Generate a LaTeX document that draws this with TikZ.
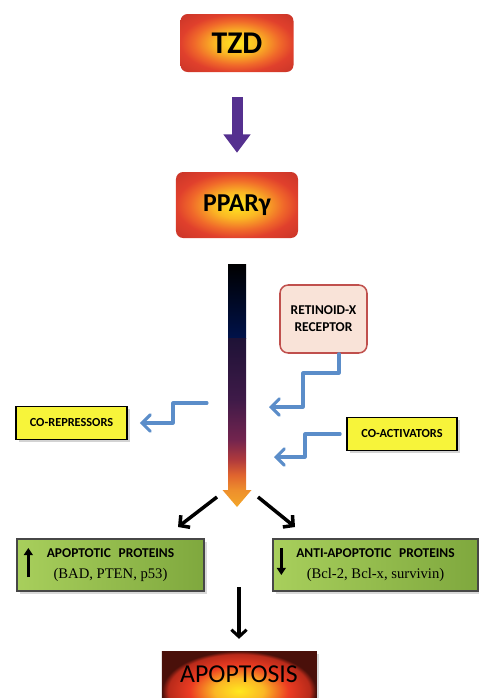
\documentclass[tikz,border=0pt]{standalone}
\usepackage{fontspec}
\setmainfont{Carlito}
\newfontfamily\serifx{Liberation Serif}
\usetikzlibrary{arrows.meta,shadows,calc}
\usepackage{xcolor}

\definecolor{glowA}{HTML}{FFE81F}
\definecolor{glowB}{HTML}{FBB724}
\definecolor{glowC}{HTML}{F0682A}
\definecolor{glowD}{HTML}{E0402C}
\definecolor{glowE}{HTML}{A82424}
\definecolor{deepC}{HTML}{EC3C22}
\definecolor{deepD}{HTML}{B82A1A}
\definecolor{deepE}{HTML}{4A100A}
\definecolor{barA}{HTML}{F3A72A}
\definecolor{barB}{HTML}{EE8F2C}
\definecolor{barC}{HTML}{E0642E}
\definecolor{barD}{HTML}{B03A3C}
\definecolor{barE}{HTML}{72244E}
\definecolor{barF}{HTML}{3E1A48}
\definecolor{barG}{HTML}{1E1236}
\definecolor{cnavy}{HTML}{00124A}
\definecolor{cpurple}{HTML}{55308F}
\definecolor{cblue}{HTML}{5B8DC9}
\definecolor{cyel}{HTML}{F7F43A}
\definecolor{rxrfill}{HTML}{F9E3D8}
\definecolor{rxrline}{HTML}{C0504D}
\definecolor{gleft}{HTML}{A8CF5C}
\definecolor{gright}{HTML}{7FA83E}
\definecolor{gline}{HTML}{474747}

\pgfdeclareradialshading{glow}{\pgfpoint{0bp}{0bp}}{color(0bp)=(glowA); color(10bp)=(glowB); color(19bp)=(glowC); color(25bp)=(glowD); color(50bp)=(glowE)}
\pgfdeclareradialshading{glowdeep}{\pgfpoint{0bp}{0bp}}{color(0bp)=(glowA); color(8bp)=(glowB); color(16bp)=(deepC); color(23bp)=(deepD); color(25bp)=(deepE); color(50bp)=(deepE)}
\pgfdeclareverticalshading{barlow}{100bp}{color(0bp)=(barA); color(25bp)=(barA); color(30bp)=(barB); color(34.5bp)=(barC); color(39bp)=(barD); color(45bp)=(barE); color(57bp)=(barF); color(75bp)=(barG); color(100bp)=(barG)}

\begin{document}
\begin{tikzpicture}[x=0.03cm,y=-0.03cm,
		glowbox/.style={rounded corners=6pt, shading=glow},
		rxrbox/.style={draw=rxrline, line width=1.3pt, fill=rxrfill, rounded corners=7pt, align=center,
			minimum width=2.61cm, minimum height=2.04cm, font=\bfseries\fontsize{11.5}{14.5}\selectfont},
		yelbox/.style={draw=black, line width=1.6pt, fill=cyel, minimum height=0.99cm,
			font=\bfseries\fontsize{10.5}{12}\selectfont, drop shadow={opacity=0.35}},
		greenbox/.style={draw=gline, line width=1.1pt, left color=gleft, right color=gright, align=center,
			minimum height=1.56cm, font=\fontsize{11.5}{18.5}\selectfont, drop shadow={opacity=0.3}},
		apobox/.style={draw=deepE, line width=0.8pt, shading=glowdeep, minimum width=4.62cm, minimum height=2.4cm, drop shadow={opacity=0.3}},
		purplearr/.style={draw=cpurple, line width=0.33cm, -{Triangle[width=0.78cm,length=0.55cm]}},
		bluearr/.style={draw=cblue, line width=2.6pt, line cap=round, line join=round,
			-{Straight Barb[length=7pt,width=14pt,line cap=round]}},
		blkarr/.style={line width=3pt, -{Straight Barb[length=6pt,width=13pt]}},
		inarr/.style={line width=2pt, -{Triangle[length=6pt,width=7.5pt]}}]
	\tikzstyle{every node}=[inner sep=2pt]
	\useasboundingbox (0,0) rectangle (479,698);
	\node[glowbox, minimum width=3.39cm, minimum height=1.74cm, font=\bfseries\fontsize{27}{30}\selectfont] (tzd) at (237,43) {TZD};
	\node[glowbox, minimum width=3.66cm, minimum height=1.98cm, font=\bfseries\fontsize{22}{26}\selectfont] (ppar) at (237,205) {PPARγ};
	\node[rxrbox] (rxr) at (323.5,319) {RETINOID-X\\RECEPTOR};
	\node[yelbox, minimum width=3.33cm] (corep) at (71.5,423) {CO-REPRESSORS};
	\node[yelbox, minimum width=3.3cm] (coact) at (402,434) {CO-ACTIVATORS};
	\node[greenbox, minimum width=5.61cm] (upprot) at (110.5,565)
		{{\bfseries APOPTOTIC\hspace{.35em} PROTEINS}\\{\serifx\fontsize{12.5}{18.5}\selectfont (BAD, PTEN, p53)}};
	\node[greenbox, minimum width=6.15cm] (downprot) at (375.5,565)
		{{\bfseries ANTI-APOPTOTIC\hspace{.35em} PROTEINS}\\{\serifx\fontsize{12.5}{18.5}\selectfont (Bcl-2, Bcl-x, survivin)}};
	\node[apobox] (apo) at (239,691) {};
	\node[font=\fontsize{22}{24}\selectfont] (apolabel) at (239,674) {APOPTOSIS};

	\draw[purplearr, shorten <=0.75cm, shorten >=0.57cm] (tzd) -- (ppar);

	\shade[top color=black, bottom color=cnavy] (228,264) rectangle (246,338);
	\shade[shading=barlow] (228,338) -- (246,338) -- (246,490) -- (251.5,490) -- (237,507)
		-- (222.5,490) -- (228,490) -- cycle;

	\draw[bluearr] ($(rxr.south)+(15.5,0)$) |- (303,373) |- (269,407);
	\draw[bluearr] (207,403) -| (173,423) -- ($(corep.east)+(12,0)$);
	\draw[bluearr, shorten <=5pt] (coact.west) -| (305,457) -- (274,457);

	\coordinate (forkl) at (217,497);
	\coordinate (forkr) at (258,497);
	\coordinate (tipl) at (178,527);
	\coordinate (tipr) at (295,527);
	\draw[blkarr] (forkl) -- (tipl);
	\draw[blkarr] (forkr) -- (tipr);
	\coordinate (apostart) at (239,587);
	\draw[blkarr, line width=2.6pt, shorten >=10pt] (apostart) -- (apo.north);

	\draw[inarr] ($(upprot.west)+(12,12)$) -- ++(0,-29);
	\draw[inarr] ($(downprot.west)+(9,-17)$) -- ++(0,27);
\end{tikzpicture}
\end{document}
